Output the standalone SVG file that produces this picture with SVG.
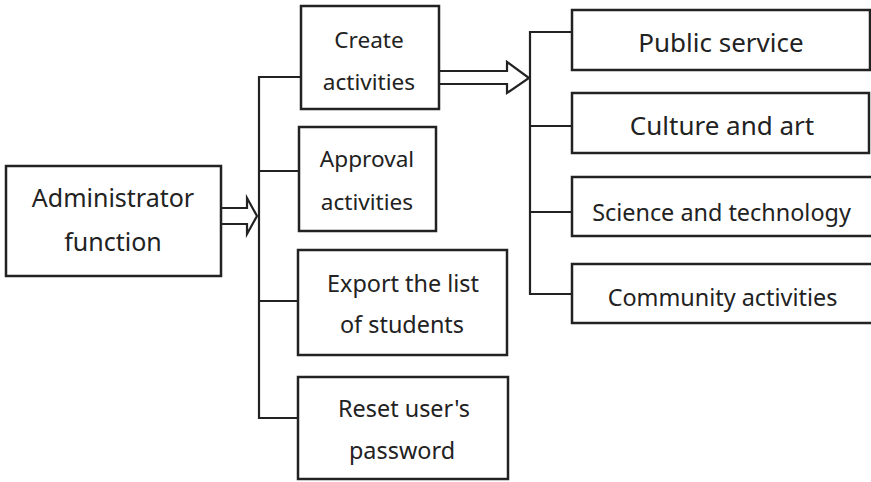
<svg xmlns="http://www.w3.org/2000/svg" width="871" height="482" viewBox="0 0 871 482">
  <style>
    .box { fill: #ffffff; stroke: #222222; stroke-width: 2.5; }
    .wire { fill: none; stroke: #222222; stroke-width: 2.2; }
    .fat { fill: #ffffff; stroke: #222222; stroke-width: 2.2; stroke-linejoin: miter; }
    text { font-family: "Noto Sans", "Open Sans", sans-serif; fill: #222222; text-anchor: middle; }
    .xl { font-size: 26px; }
    .big { font-size: 25px; }
    .mid { font-size: 23.4px; }
    .sm { font-size: 22.6px; }
  </style>
  <rect width="871" height="482" fill="#ffffff"/>

  <!-- connectors -->
  <g id="connectors">
    <!-- left bus -->
    <path class="wire" d="M301,77 H259 V418 H298 M259,171 H299 M259,301 H298"/>
    <!-- right bus -->
    <path class="wire" d="M572,32 H530 V294 H572 M530,126 H572 M530,212 H572"/>
    <!-- hollow block arrows -->
    <path class="fat" d="M221,208 H247 V198 L257,216 L247,234 V224 H221"/>
    <path class="fat" d="M439,71 H507 V62 L529,78 L507,93 V84 H439"/>
  </g>

  <g id="admin">
    <rect class="box" x="6" y="166" width="215" height="110"/>
    <text class="big" x="113" y="207">Administrator</text>
    <text class="big" x="113" y="251">function</text>
  </g>

  <g id="create">
    <rect class="box" x="301" y="6" width="138" height="103"/>
    <text class="sm" x="369" y="48">Create</text>
    <text class="sm" x="369" y="90">activities</text>
  </g>

  <g id="approval">
    <rect class="box" x="299" y="127" width="137" height="104"/>
    <text class="sm" x="367" y="167">Approval</text>
    <text class="sm" x="367" y="210">activities</text>
  </g>

  <g id="export">
    <rect class="box" x="298" y="250" width="209" height="105"/>
    <text class="mid" x="403" y="292">Export the list</text>
    <text class="mid" x="402" y="333">of students</text>
  </g>

  <g id="reset">
    <rect class="box" x="298" y="377" width="210" height="102"/>
    <text class="mid" x="404" y="417">Reset user's</text>
    <text class="mid" x="402" y="459">password</text>
  </g>

  <g id="public">
    <rect class="box" x="572" y="10" width="298" height="60"/>
    <text class="xl" x="721" y="52">Public service</text>
  </g>

  <g id="culture">
    <rect class="box" x="572" y="93" width="297" height="60"/>
    <text class="xl" x="722" y="135">Culture and art</text>
  </g>

  <g id="science">
    <rect class="box" x="572" y="177" width="302" height="59"/>
    <text class="mid" x="721.5" y="221">Science and technology</text>
  </g>

  <g id="community">
    <rect class="box" x="572" y="264" width="302" height="59"/>
    <text class="mid" x="722.5" y="306">Community activities</text>
  </g>
</svg>
